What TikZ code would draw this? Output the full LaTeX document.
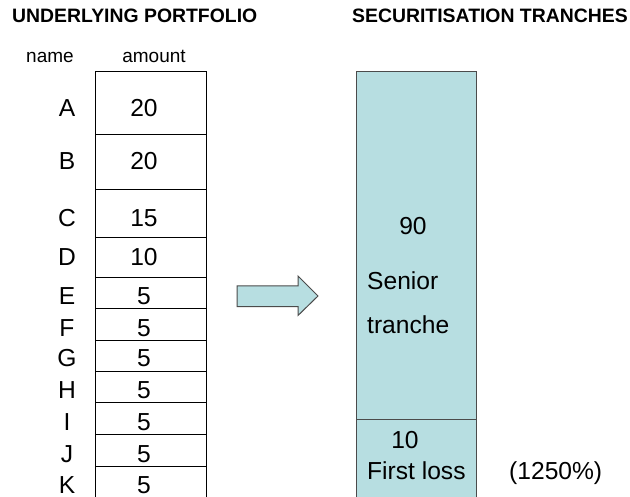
\documentclass[tikz,border=0pt]{standalone}
\usepackage{fontspec}
\setmainfont{Liberation Sans}
\definecolor{tranchefill}{RGB}{183,222,225}
\definecolor{tranchedraw}{RGB}{75,75,75}

\begin{document}
\begin{tikzpicture}[x=1pt,y=-1pt,
    head/.style={anchor=base west,inner sep=0pt,font=\fontsize{19.4}{22}\selectfont\bfseries},
    colhead/.style={anchor=base,inner sep=0pt,font=\fontsize{19}{22}\selectfont},
    entry/.style={anchor=base,inner sep=0pt,font=\fontsize{24.6}{28}\selectfont},
    tranche/.style={draw=tranchedraw,fill=tranchefill,line width=1pt,inner sep=0pt,
      anchor=north west,minimum width=119.7pt},
    bigarrow/.style={draw=tranchedraw,fill=tranchefill,line width=1pt}]
  \useasboundingbox (0,0) rectangle (630,497);
  \node[head] (under) at (12,23) {UNDERLYING PORTFOLIO};
  \node[head] (secur) at (352,23) {SECURITISATION TRANCHES};
  \node[colhead] (name) at (50,63) {name};
  \node[colhead] (amount) at (154,63) {amount};
  % portfolio table
  \draw[line width=0.9pt] (95.7,497) -- (95.7,71) -- (206.7,71) -- (206.7,497);
  \foreach \nm/\amt/\yb/\yl in {A/20/116.7/134, B/20/170/189, C/15/226.7/237,
      D/10/266/277, E/5/305/308, F/5/336.7/340, G/5/367/371, H/5/399/402,
      I/5/430.7/434, J/5/462.7/466}{
    \node[entry] (nm-\nm) at (67,\yb) {\nm};
    \node[entry] (amt-\nm) at (144,\yb) {\amt};
    \draw[line width=0.8pt] (95.7,\yl) -- (206.7,\yl);
  }
  \node[entry] (nm-K) at (67,493.8) {K};
  \node[entry] (amt-K) at (144,493.8) {5};
  % arrow
  \draw[bigarrow] (237,286) -- (298,286) -- (298,276) -- (318,296)
    -- (298,315.5) -- (298,306.7) -- (237,306.7) -- cycle;
  % tranches
  \node[tranche,minimum height=348pt] (senior) at (356,71) {};
  \node[tranche,minimum height=78pt] (firstloss) at (356,419) {};
  \node[entry] (senior-amt) at (413,234.3) {90};
  \node[entry,anchor=base west] (senior-lbl) at (367,290) {Senior};
  \node[entry,anchor=base west] (senior-lbl2) at (367,333.3) {tranche};
  \node[entry] (fl-amt) at (405,448.3) {10};
  \node[entry,anchor=base west] (fl-lbl) at (367,479.3) {First loss};
  \node[entry,anchor=base west] (fl-weight) at (509,479.3) {(1250\%)};
\end{tikzpicture}
\end{document}
